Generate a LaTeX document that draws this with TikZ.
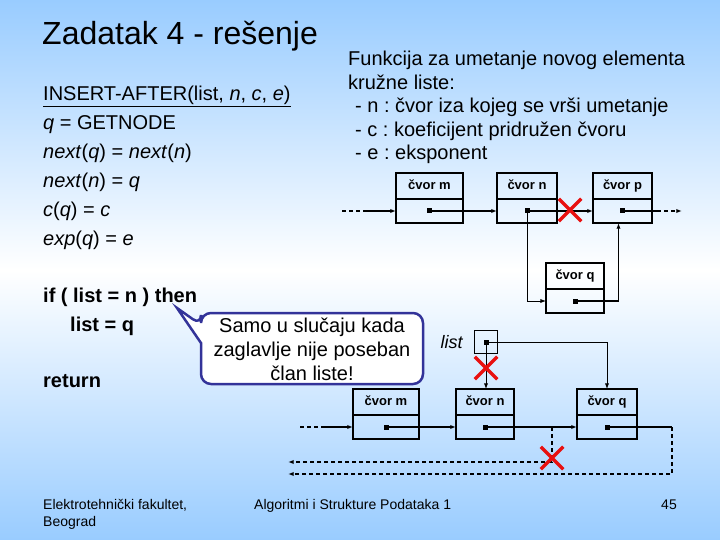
\documentclass[tikz,border=0pt]{standalone}
\usepackage{fontspec}
\setmainfont{Liberation Sans}
\usetikzlibrary{arrows.meta,positioning,shapes.misc}
\definecolor{sky}{RGB}{153,204,255}
\definecolor{navy}{RGB}{51,51,153}
\definecolor{xred}{RGB}{232,16,16}
\frenchspacing

\begin{document}
\begin{tikzpicture}[x=1pt, y=-1pt, every node/.style={font=\fontsize{20}{24}\selectfont, inner sep=0pt},
	lbl/.style={draw, line width=1.6pt, outer sep=0pt, minimum height=26pt, text height=9.5pt, text depth=2.5pt, font=\fontsize{13}{15}\selectfont\bfseries},
	ptr/.style={draw, line width=1.6pt, outer sep=0pt, minimum height=24pt},
	dotsq/.style={fill, minimum size=5pt},
	link/.style={line width=1.6pt, -{Latex[length=2mm]}},
	thinlink/.style={line width=0.9pt, -{Latex[length=2mm]}},
	dashlink/.style={line width=1.1pt, dash pattern=on 4pt off 3pt},
	cut/.style={draw=xred, cross out, line width=3.5pt, minimum size=19pt}]
		\shade[top color=sky, bottom color=sky, middle color=white] (0,0) rectangle (720,540);
		
		\node[anchor=base west, font=\fontsize{32}{36}\selectfont] (title) at (42,45) {Zadatak 4 - rešenje};
		
		\node[anchor=base west] (a1) at (43,101) {\underline{INSERT-AFTER(list, \textit{n}, \textit{c}, \textit{e})}};
		\node[anchor=base west] (a2) at (43,130) {\textit{q} = GETNODE};
		\node[anchor=base west] (a3) at (43,159) {\textit{next}(\textit{q}) = \textit{next}(\textit{n})};
		\node[anchor=base west] (a4) at (43,188) {\textit{next}(\textit{n}) = \textit{q}};
		\node[anchor=base west] (a5) at (43,217) {\textit{c}(\textit{q}) = \textit{c}};
		\node[anchor=base west] (a6) at (43,245) {\textit{exp}(\textit{q}) = \textit{e}};
		\node[anchor=base west, font=\fontsize{20}{24}\selectfont\bfseries] (b1) at (43,302) {if ( list = n ) then};
		\node[anchor=base west, font=\fontsize{20}{24}\selectfont\bfseries] (b2) at (70,331) {list = q};
		\node[anchor=base west, font=\fontsize{20}{24}\selectfont\bfseries] (b3) at (43,387) {return};
		
		\node[anchor=base west] (f1) at (348,66) {Funkcija za umetanje novog elementa};
		\node[anchor=base west] (f2) at (348,90) {kružne liste:};
		\node[anchor=base west] (f3) at (355,113) {- n : čvor iza kojeg se vrši umetanje};
		\node[anchor=base west] (f4) at (355,137) {- c : koeficijent pridružen čvoru};
		\node[anchor=base west] (f5) at (355,160) {- e : eksponent};
		
		% gornja slika
		\node[lbl, minimum width=67pt] (tm) at (429.5,186) {čvor m};
		\node[ptr, minimum width=67pt, below=0pt of tm] (tmp) {};
		\node[lbl, minimum width=60pt] (tn) at (527,186) {čvor n};
		\node[ptr, minimum width=60pt, below=0pt of tn] (tnp) {};
		\node[lbl, minimum width=59pt] (tp) at (622.5,186) {čvor p};
		\node[ptr, minimum width=59pt, below=0pt of tp] (tpp) {};
		\node[lbl, minimum width=58pt] (tq) at (575,276) {čvor q};
		\node[ptr, minimum width=58pt, below=0pt of tq] (tqp) {};
		\node[dotsq] (tmd) at (tmp.center) {};
		\node[dotsq] (tnd) at (tnp.center) {};
		\node[dotsq] (tpd) at (tpp.center) {};
		\node[dotsq] (tqd) at (tqp.center) {};
		
		\coordinate (tin) at (342,211);
		\coordinate (tin2) at (365,211);
		\coordinate (tout) at (657,211);
		\coordinate (tout2) at (682,211);
		\draw[dashlink] (tin) -- (tin2);
		\draw[link] (tin2) -- (tmp.west);
		\draw[link] (tmd.center) -- (tnp.west);
		\draw[link] (tnd.center) -- (tpp.west);
		\draw[line width=1.6pt] (tpd.center) -- (tout);
		\draw[dashlink, -{Latex[length=2mm]}] (tout) -- (tout2);
		\draw[thinlink] (tnd.center) |- (tqp.west);
		\draw[link] (tqd.center) -| ([xshift=-4pt]tpp.south);
		\node[cut] (x1) at (570,210) {};
		
		% donja slika
		\node[draw, line width=0.8pt, minimum size=23.5pt] (lst) at (486,342) {};
		\node[dotsq] (lstd) at (lst.center) {};
		\node[font=\fontsize{18}{20}\selectfont\itshape, left=11pt of lst] (lstname) {list};
		\node[lbl, minimum width=66pt] (bm) at (386,402) {čvor m};
		\node[ptr, minimum width=66pt, below=0pt of bm] (bmp) {};
		\node[lbl, minimum width=58pt] (bn) at (485,402) {čvor n};
		\node[ptr, minimum width=58pt, below=0pt of bn] (bnp) {};
		\node[lbl, minimum width=60pt] (bq) at (607,402) {čvor q};
		\node[ptr, minimum width=60pt, below=0pt of bq] (bqp) {};
		\node[dotsq] (bmd) at (bmp.center) {};
		\node[dotsq] (bnd) at (bnp.center) {};
		\node[dotsq] (bqd) at (bqp.center) {};
		
		\coordinate (bin) at (300,427);
		\coordinate (bin2) at (323,427);
		\coordinate (br) at (552,427);
		\coordinate (br2) at (552,462);
		\coordinate (bl1) at (288,462);
		\coordinate (qr) at (672,427);
		\coordinate (qr2) at (672,474);
		\coordinate (bl2) at (288,474);
		\draw[thinlink] (lstd.center) -- (lstd.center |- bn.north);
		\draw[thinlink] (lstd.center) -| (bq.north);
		\draw[dashlink] (bin) -- (bin2);
		\draw[link] (bin2) -- (bmp.west);
		\draw[link] (bmd.center) -- (bnp.west);
		\draw[link] (bnd.center) -- (bqp.west);
		\draw[dashlink, -{Latex[length=2mm]}] (br) -- (br2) -- (bl1);
		\draw[line width=1.6pt] (bqd.center) -- (qr);
		\draw[dashlink, -{Latex[length=2mm]}] (qr) -- (qr2) -- (bl2);
		\node[cut] (x2) at (486,368) {};
		\node[cut] (x3) at (552,458) {};
		
		% oblacic
		\draw[navy, line width=2.5pt, fill=white] (201,343) [rounded corners=10pt] -- (201,384) -- (423,384) -- (423,313) -- (201,313) -- (201,325) [sharp corners] -- (177,308) -- cycle;
		\node[align=center] (note) at (312,349) {Samo u slučaju kada\\zaglavlje nije poseban\\član liste!};
		
		\node[anchor=base west, font=\fontsize{14}{17}\selectfont] (g1) at (43,509) {Elektrotehnički fakultet,};
		\node[anchor=base west, font=\fontsize{14}{17}\selectfont] (g2) at (43,526) {Beograd};
		\node[anchor=base west, font=\fontsize{14}{17}\selectfont] (g3) at (254,509) {Algoritmi i Strukture Podataka 1};
		\node[anchor=base east, font=\fontsize{14}{17}\selectfont] (g4) at (677,509) {45};
	\end{tikzpicture}
\end{document}
